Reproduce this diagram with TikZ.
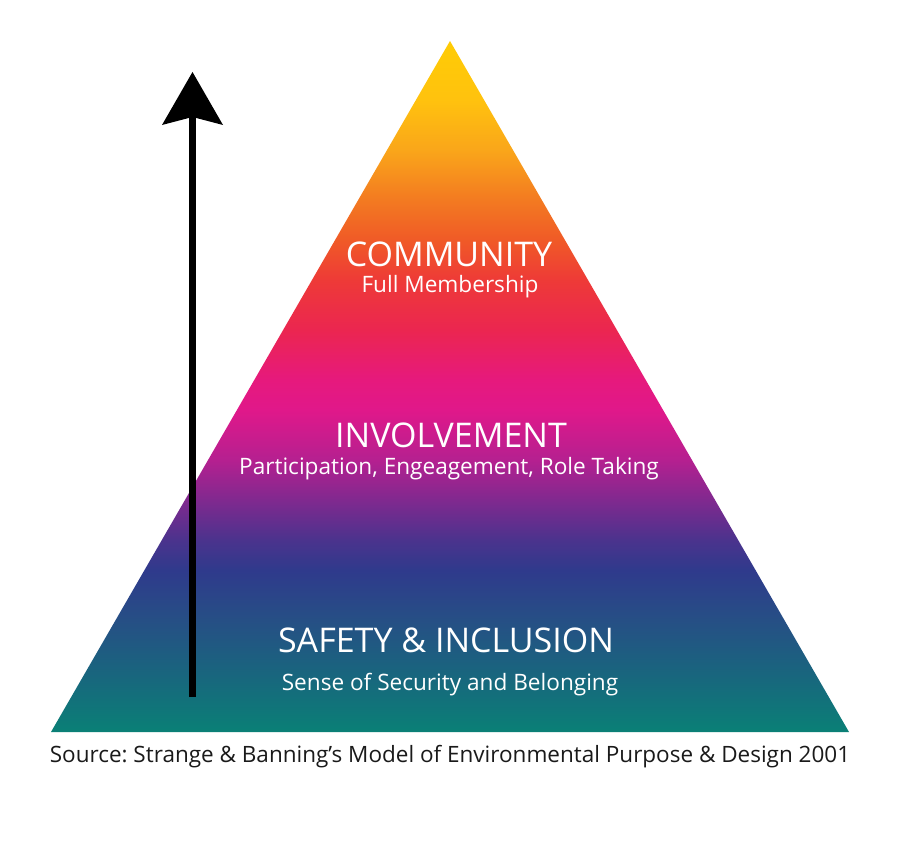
\documentclass[tikz,border=0pt]{standalone}
\usepackage{fontspec}
\setmainfont{Open Sans}
\usetikzlibrary{arrows.meta}
\frenchspacing
\definecolor{c41}{HTML}{FFCC05}
\definecolor{c100}{HTML}{FFC20E}
\definecolor{c150}{HTML}{FAA61A}
\definecolor{c200}{HTML}{F37A21}
\definecolor{c240}{HTML}{F05A27}
\definecolor{c280}{HTML}{EE3A37}
\definecolor{c330}{HTML}{EB2650}
\definecolor{c380}{HTML}{E6197D}
\definecolor{c410}{HTML}{E0188A}
\definecolor{c460}{HTML}{B52090}
\definecolor{c500}{HTML}{80298F}
\definecolor{c540}{HTML}{4B338D}
\definecolor{c570}{HTML}{2F3A8C}
\definecolor{c620}{HTML}{264F85}
\definecolor{c680}{HTML}{17687D}
\definecolor{c732}{HTML}{0A8076}
\definecolor{srctext}{HTML}{1A1A1A}
\pgfdeclareverticalshading{pyramid}{100bp}{%
color(0bp)=(c732); color(25bp)=(c732); color(28.76bp)=(c680);
color(33.10bp)=(c620); color(36.72bp)=(c570); color(38.89bp)=(c540);
color(41.79bp)=(c500); color(44.68bp)=(c460); color(48.30bp)=(c410);
color(50.47bp)=(c380); color(54.09bp)=(c330); color(57.71bp)=(c280);
color(60.60bp)=(c240); color(63.50bp)=(c200); color(67.11bp)=(c150);
color(70.73bp)=(c100); color(75bp)=(c41); color(100bp)=(c41)}
\tikzset{
  headtext/.style={text=white, font=\fontsize{34}{40}\selectfont, anchor=base, inner sep=0pt},
  subtext/.style={text=white, font=\fontsize{22.6}{27}\selectfont, anchor=base, inner sep=0pt},
  srcstyle/.style={text=srctext, font=\fontsize{22.5}{27}\selectfont, anchor=base, inner sep=0pt},
  uparrow/.style={line width=7pt, -{Stealth[length=53pt,width=61pt,inset=8pt,line width=0pt]}}
}
\begin{document}
\begin{tikzpicture}[x=1pt,y=-1pt]
\fill[white] (0,0) rectangle (900,859);
\useasboundingbox (0,0) rectangle (900,859);
\coordinate (apex) at (450,41);
\coordinate (bl) at (51,732);
\coordinate (br) at (849,732);
\shade[shading=pyramid] (apex) -- (br) -- (bl) -- cycle;
\coordinate (abot) at (192.5,697);
\coordinate (atop) at (192.5,72);
\draw[uparrow] (abot) -- (atop);
\node[headtext] (community) at (449,266) {COMMUNITY};
\node[subtext] (fullmem) at (450,292) {Full Membership};
\node[headtext] (involvement) at (451,447) {INVOLVEMENT};
\node[subtext] (particip) at (449,474) {Participation, Engeagement, Role Taking};
\node[headtext] (safety) at (446,652) {SAFETY \& INCLUSION};
\node[subtext] (sense) at (450,690) {Sense of Security and Belonging};
\node[srcstyle] (source) at (450,762) {Source: Strange \& Banning’s Model of Environmental Purpose \& Design 2001};
\end{tikzpicture}
\end{document}
